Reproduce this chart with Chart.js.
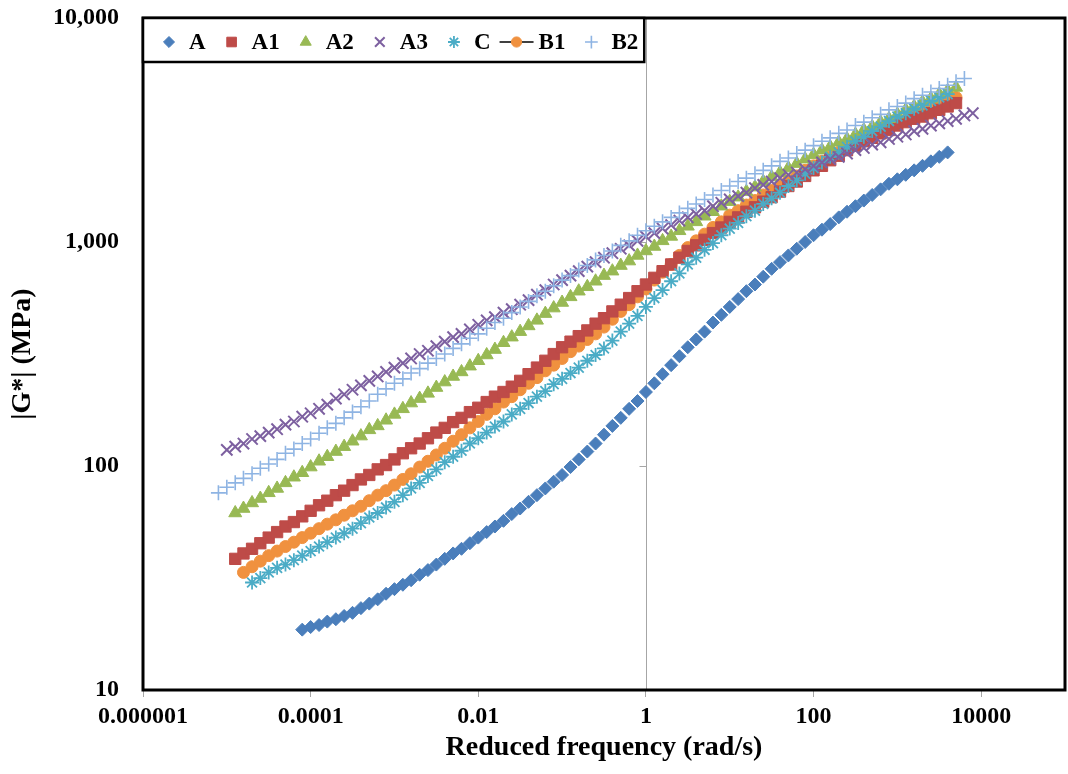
<!DOCTYPE html>
<html>
<head>
<meta charset="utf-8">
<title>|G*| master curves</title>
<script src="https://cdn.jsdelivr.net/npm/chart.js@4.4.0/dist/chart.umd.min.js"></script>
<style>
  body { margin: 0; background: #fff; }
  #wrap { width: 1068px; height: 774px; }
</style>
</head>
<body>
<div id="wrap"><canvas id="chart" width="1068" height="774"></canvas></div>
<script>
// reduced frequency (rad/s), shared by all the series
var freq = [
  7.94e-6,
  1.00e-5, 1.26e-5, 1.58e-5, 2.00e-5, 2.51e-5, 3.16e-5, 3.98e-5, 5.01e-5, 6.31e-5, 7.94e-5,
  1.00e-4, 1.26e-4, 1.58e-4, 2.00e-4, 2.51e-4, 3.16e-4, 3.98e-4, 5.01e-4, 6.31e-4, 7.94e-4,
  1.00e-3, 1.26e-3, 1.58e-3, 2.00e-3, 2.51e-3, 3.16e-3, 3.98e-3, 5.01e-3, 6.31e-3, 7.94e-3,
  0.0100, 0.0126, 0.0158, 0.0200, 0.0251, 0.0316, 0.0398, 0.0501, 0.0631, 0.0794,
  0.100, 0.126, 0.158, 0.200, 0.251, 0.316, 0.398, 0.501, 0.631, 0.794,
  1.00, 1.26, 1.58, 2.00, 2.51, 3.16, 3.98, 5.01, 6.31, 7.94,
  10.0, 12.6, 15.8, 20.0, 25.1, 31.6, 39.8, 50.1, 63.1, 79.4,
  100, 126, 158, 200, 251, 316, 398, 501, 631, 794,
  1000, 1259, 1585, 1995, 2512, 3162, 3981, 5012, 6310, 7943
];

var seriesNames = ["A", "A1", "A2", "A3", "C", "B1", "B2"];

// |G*| in MPa, null where the series has no point at that frequency
var gA = [null, null, null, null, null, null, null, null, null, null,
  18.6,
  19.1, 19.5, 20.2, 20.7, 21.4, 22.1, 23.2, 24.3, 25.4, 26.9,
  28.2, 29.5, 30.9, 32.7, 34.3, 36.3, 38.5, 40.7, 42.7, 45.2,
  47.9, 50.7, 53.7, 56.9, 61.0, 64.6, 69.2, 74.1, 79.4, 85.1,
  91.2, 98.9, 107, 116, 126, 138, 151, 164, 180, 195,
  214, 234, 257, 282, 309, 339, 367, 398, 437, 473,
  513, 556, 603, 646, 700, 759, 813, 871, 933, 1000,
  1072, 1135, 1202, 1288, 1365, 1445, 1531, 1622, 1718, 1820,
  1905, 1995, 2089, 2188, 2291, 2399, 2512];

var gA1 = [null, null,
  38.5, 40.7, 42.7, 45.2, 47.9, 50.7, 53.7, 56.2, 59.6,
  63.1, 66.8, 70.0, 74.1, 77.6, 82.2, 87.1, 91.2, 96.6, 101,
  107, 114, 120, 126, 133, 141, 148, 157, 164, 174,
  182, 193, 204, 214, 226, 240, 257, 275, 295, 316,
  339, 359, 380, 403, 432, 457, 490, 525, 562, 603,
  646, 692, 741, 794, 851, 912, 966, 1023, 1096, 1161,
  1230, 1288, 1365, 1429, 1514, 1585, 1679, 1778, 1862, 1972,
  2089, 2188, 2317, 2427, 2570, 2692, 2818, 2917, 3055, 3162,
  3311, 3428, 3548, 3631, 3758, 3890, 4027, 4169];

var gA2 = [null, null,
  61.7, 64.6, 68.4, 71.6, 75.9, 79.4, 84.1, 89.1, 93.3,
  98.9, 105, 110, 116, 122, 129, 136, 145, 151, 160,
  170, 180, 191, 200, 211, 224, 237, 251, 263, 279,
  295, 313, 331, 355, 376, 398, 422, 447, 479, 507,
  537, 569, 603, 631, 668, 708, 741, 785, 822, 871,
  912, 955, 1012, 1059, 1122, 1175, 1230, 1303, 1365, 1445,
  1514, 1585, 1679, 1758, 1862, 1950, 2042, 2138, 2239, 2344,
  2455, 2570, 2661, 2786, 2884, 3020, 3162, 3273, 3428, 3548,
  3715, 3890, 4027, 4217, 4365, 4571, 4732, 4898];

var gA3 = [null,
  118, 122, 126, 132, 136, 141, 146, 153, 158, 166,
  172, 180, 188, 200, 209, 219, 229, 240, 251, 263,
  275, 288, 302, 316, 327, 343, 359, 376, 389, 407,
  427, 447, 462, 484, 501, 525, 550, 582, 610, 646,
  676, 708, 741, 776, 813, 851, 891, 933, 966, 1012,
  1057, 1096, 1148, 1189, 1245, 1288, 1334, 1380, 1445, 1496,
  1549, 1603, 1660, 1738, 1799, 1862, 1928, 1995, 2042, 2113,
  2188, 2265, 2344, 2399, 2483, 2570, 2630, 2723, 2786, 2884,
  2951, 3020, 3126, 3199, 3311, 3388, 3467, 3548, 3673, 3758];

var gC = [null, null, null, null,
  30.2, 31.6, 33.5, 35.1, 36.3, 38.0, 39.8,
  41.7, 43.7, 45.7, 47.9, 50.1, 52.5, 55.6, 58.9, 61.7, 65.3,
  69.2, 74.1, 79.4, 84.1, 90.2, 96.6, 104, 110, 117, 126,
  133, 141, 150, 158, 170, 180, 191, 204, 216, 232,
  245, 260, 275, 295, 313, 335, 363, 398, 432, 468,
  513, 562, 610, 668, 724, 794, 851, 923, 989, 1072,
  1148, 1216, 1303, 1380, 1479, 1567, 1660, 1778, 1884, 2018,
  2138, 2265, 2399, 2512, 2661, 2818, 2951, 3126, 3273, 3467,
  3631, 3758, 3936, 4074, 4266, 4416, 4571];

var gB1 = [null, null, null,
  33.5, 35.5, 37.6, 39.8, 41.7, 43.7, 45.7, 47.9,
  50.1, 52.5, 55.0, 57.5, 60.3, 63.1, 66.1, 70.0, 74.1, 77.6,
  82.2, 87.1, 92.3, 98.9, 105, 112, 120, 129, 138, 148,
  158, 170, 180, 193, 204, 219, 234, 248, 266, 282,
  302, 324, 343, 367, 389, 417, 452, 490, 525, 569,
  617, 676, 733, 794, 871, 944, 1012, 1084, 1161, 1230,
  1318, 1380, 1462, 1531, 1622, 1698, 1778, 1884, 1972, 2089,
  2188, 2291, 2399, 2512, 2630, 2754, 2884, 2985, 3126, 3236,
  3388, 3508, 3631, 3802, 3936, 4074, 4266, 4416];

var gB2 = [
  75.9,
  80.4, 84.1, 88.1, 92.3, 97.7, 102, 107, 114, 119, 126,
  132, 140, 148, 155, 164, 174, 184, 195, 209, 221,
  234, 245, 260, 272, 288, 302, 316, 335, 351, 372,
  389, 412, 437, 457, 484, 513, 543, 575, 603, 638,
  676, 708, 750, 785, 832, 871, 912, 966, 1012, 1072,
  1122, 1175, 1230, 1288, 1349, 1413, 1479, 1549, 1622, 1698,
  1778, 1862, 1928, 2018, 2089, 2188, 2291, 2371, 2483, 2570,
  2692, 2818, 2917, 3055, 3162, 3311, 3428, 3589, 3715, 3890,
  4027, 4169, 4365, 4519, 4677, 4842, 5012, 5188, 5370];

var xTicks = [0.000001, 0.0001, 0.01, 1, 100, 10000];
var xTickLabels = ["0.000001", "0.0001", "0.01", "1", "100", "10000"];
var yTicks = [10, 100, 1000, 10000];
var yTickLabels = ["10", "100", "1,000", "10,000"];

var serif = "'Liberation Serif', 'Times New Roman', serif";

// marker look for each series (same order as seriesNames)
var markers = [
  { style: 'rectRot',  radius: 6.5, color: '#4A7EBB', width: 1,   order: 7 },
  { style: 'rect',     radius: 8,   color: '#BE4B48', width: 1,   order: 5 },
  { style: 'triangle', radius: 7.5, color: '#98B954', width: 1,   order: 4 },
  { style: 'crossRot', radius: 8,   color: '#7D60A0', width: 2,   order: 2 },
  { style: 'star',     radius: 7,   color: '#4BACC6', width: 1.8, order: 3 },
  { style: 'circle',   radius: 6,   color: '#F0913F', width: 1,   order: 6, legendLine: true },
  { style: 'cross',    radius: 7.5, color: '#8EB4E3', width: 1.6, order: 1 }
];

var allValues = [gA, gA1, gA2, gA3, gC, gB1, gB2];

function toPoints(vals) {
  var pts = [];
  for (var i = 0; i < vals.length; i++) {
    if (vals[i] != null) pts.push({ x: freq[i], y: vals[i] });
  }
  return pts;
}

var datasets = seriesNames.map(function (name, i) {
  var m = markers[i];
  return {
    label: name,
    data: toPoints(allValues[i]),
    showLine: false,
    pointStyle: m.style,
    pointRadius: m.radius,
    pointHoverRadius: m.radius,
    pointBackgroundColor: m.color,
    pointBorderColor: m.color,
    pointBorderWidth: m.width,
    backgroundColor: m.color,
    borderColor: m.color,
    order: m.order,
    legendLine: !!m.legendLine
  };
});

// gray axis line at x = 1 with its little y ticks, frame and boxed legend
var framePlugin = {
  id: 'frameLegend',
  beforeDatasetsDraw: function (chart) {
    var a = chart.chartArea, ctx = chart.ctx;
    var x1 = Math.round(chart.scales.x.getPixelForValue(1)) + 0.5;
    ctx.save();
    ctx.strokeStyle = '#a6a6a6';
    ctx.lineWidth = 1;
    ctx.beginPath();
    ctx.moveTo(x1, a.top);
    ctx.lineTo(x1, a.bottom);
    yTicks.forEach(function (v) {
      var py = Math.round(chart.scales.y.getPixelForValue(v)) + 0.5;
      ctx.moveTo(x1 - 7, py);
      ctx.lineTo(x1, py);
    });
    ctx.stroke();
    ctx.restore();
  },
  afterDraw: function (chart) {
    var a = chart.chartArea, ctx = chart.ctx;
    ctx.save();
    ctx.strokeStyle = '#000';
    ctx.lineWidth = 3;
    ctx.strokeRect(a.left, a.top, a.right - a.left, a.bottom - a.top);

    // legend
    ctx.font = 'bold 23px ' + serif;
    var cy = a.top + 24;
    var cx = a.left + 26;
    var items = [];
    chart.data.datasets.forEach(function (ds) {
      var tx = cx + (ds.legendLine ? 22 : 20);
      var tw = ctx.measureText(ds.label).width;
      items.push({ ds: ds, mx: cx, tx: tx });
      cx = tx + tw + 26;
    });
    var last = items[items.length - 1];
    var boxRight = last.tx + ctx.measureText(last.ds.label).width + 6;
    ctx.fillStyle = '#fff';
    ctx.fillRect(a.left, a.top, boxRight - a.left, 44);
    ctx.lineWidth = 2.5;
    ctx.strokeRect(a.left, a.top, boxRight - a.left, 44);

    items.forEach(function (it) {
      var ds = it.ds;
      if (ds.legendLine) {
        ctx.strokeStyle = '#000';
        ctx.lineWidth = 1.5;
        ctx.beginPath();
        ctx.moveTo(it.mx - 17, cy);
        ctx.lineTo(it.mx + 17, cy);
        ctx.stroke();
      }
      ctx.fillStyle = ds.pointBackgroundColor;
      ctx.strokeStyle = ds.pointBorderColor;
      ctx.lineWidth = ds.pointBorderWidth;
      Chart.helpers.drawPoint(ctx, {
        pointStyle: ds.pointStyle,
        radius: ds.pointRadius * 0.85,
        borderWidth: ds.pointBorderWidth,
        rotation: 0
      }, it.mx, cy);
      ctx.fillStyle = '#000';
      ctx.textAlign = 'left';
      ctx.textBaseline = 'middle';
      ctx.fillText(ds.label, it.tx, cy + 1);
    });
    ctx.restore();
  }
};

var chart = new Chart(document.getElementById('chart'), {
  type: 'scatter',
  data: { datasets: datasets },
  options: {
    responsive: false,
    animation: false,
    devicePixelRatio: 1,
    layout: { autoPadding: false, padding: { top: 18, right: 3, left: 0, bottom: 0 } },
    plugins: {
      legend: { display: false },
      tooltip: { enabled: false }
    },
    scales: {
      x: {
        type: 'logarithmic',
        min: 0.000001,
        max: 100000,
        afterBuildTicks: function (scale) {
          scale.ticks = xTicks.map(function (v) { return { value: v }; });
        },
        afterFit: function (scale) {
          scale.height = 84;
          scale.paddingLeft = 0;
          scale.paddingRight = 0;
        },
        ticks: {
          autoSkip: false,
          maxRotation: 0,
          padding: 5,
          color: '#000',
          font: { family: serif, size: 24, weight: 'bold' },
          callback: function (v) { return xTickLabels[xTicks.indexOf(v)]; }
        },
        grid: { drawOnChartArea: false, drawTicks: true, tickLength: 7, tickColor: '#a6a6a6' },
        border: { display: false },
        title: {
          display: true,
          text: 'Reduced frequency (rad/s)',
          color: '#000',
          font: { family: serif, size: 28, weight: 'bold' },
          padding: { top: 0, bottom: 9 }
        }
      },
      y: {
        type: 'logarithmic',
        min: 10,
        max: 10000,
        afterBuildTicks: function (scale) {
          scale.ticks = yTicks.map(function (v) { return { value: v }; });
        },
        afterFit: function (scale) {
          scale.width = 143;
          scale.paddingTop = 0;
          scale.paddingBottom = 0;
        },
        ticks: {
          padding: 24,
          color: '#000',
          font: { family: serif, size: 24, weight: 'bold' },
          callback: function (v) { return yTickLabels[yTicks.indexOf(v)]; }
        },
        grid: { drawOnChartArea: false, drawTicks: false },
        border: { display: false },
        title: {
          display: true,
          text: '|G*| (MPa)',
          color: '#000',
          font: { family: serif, size: 28, weight: 'bold' },
          padding: { top: 6, bottom: 0 }
        }
      }
    }
  },
  plugins: [framePlugin]
});
</script>
</body>
</html>
